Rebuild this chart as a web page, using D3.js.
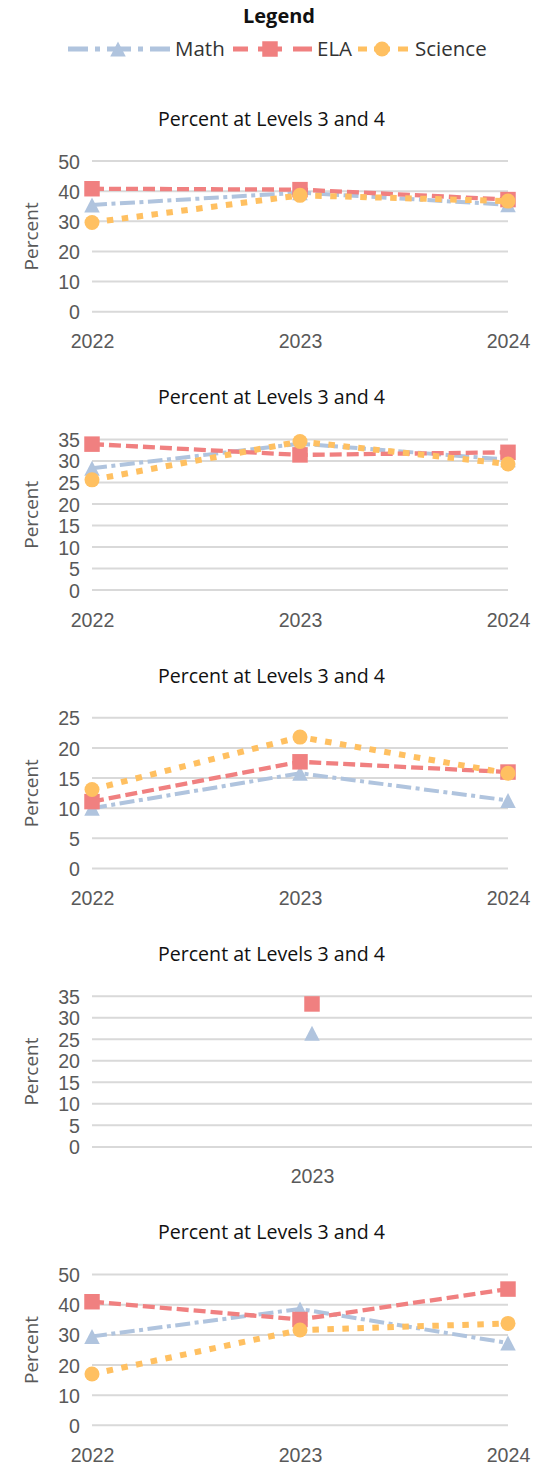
<!DOCTYPE html>
<html>
<head>
<meta charset="utf-8">
<script src="https://cdn.jsdelivr.net/npm/d3@7"></script>
<style>
  html, body { margin: 0; padding: 0; background: #fff; }
  svg { display: block; font-family: "Open Sans", "Noto Sans", sans-serif; }
</style>
</head>
<body>
<script>
// ---------- DATA ----------
const seriesNames = ["Math", "ELA", "Science"];
const chartTitle = "Percent at Levels 3 and 4";
const yAxisLabel = "Percent";
const legendTitle = "Legend";

const categories = [
  ["2022", "2023", "2024"],
  ["2022", "2023", "2024"],
  ["2022", "2023", "2024"],
  ["2023"],
  ["2022", "2023", "2024"]
];
const yMax  = [50, 35, 25, 35, 50];
const yStep = [10, 5, 5, 5, 10];

const mathValues = [
  [35.4, 39.5, 35.5],
  [28.3, 34.0, 30.3],
  [10.0, 15.8, 11.3],
  [26.4],
  [29.5, 38.6, 27.3]
];
const elaValues = [
  [40.8, 40.5, 37.2],
  [33.9, 31.4, 32.0],
  [11.1, 17.7, 16.0],
  [33.2],
  [41.0, 35.1, 45.2]
];
const scienceValues = [
  [29.6, 38.6, 36.7],
  [25.6, 34.5, 29.3],
  [13.1, 21.8, 15.8],
  [null],
  [17.0, 31.6, 33.8]
];

// ---------- STYLES ----------
const styles = {
  Math:    { color: "#b0c4de", width: 4,   dash: "15,4.5,4,4.5", marker: "triangle" },
  ELA:     { color: "#f08080", width: 4.3, dash: "12,5",          marker: "square" },
  Science: { color: "#ffc061", width: 6,   dash: "6.5,8.5",       marker: "circle" }
};
const allValues = { Math: mathValues, ELA: elaValues, Science: scienceValues };

const W = 548, H = 1464;
const svg = d3.select("body").append("svg").attr("width", W).attr("height", H);

function markerPath(type) {
  if (type === "triangle") {
    const w = 15.5, h = 15;
    return `M0,${-h/2}L${w/2},${h/2}L${-w/2},${h/2}Z`;
  }
  if (type === "square") {
    const s = 15.5;
    return `M${-s/2},${-s/2}h${s}v${s}h${-s}Z`;
  }
  return d3.symbol(d3.symbolCircle, Math.PI * 7.5 * 7.5)();
}

// ---------- LEGEND ----------
svg.append("text")
  .attr("x", 279).attr("y", 23)
  .attr("text-anchor", "middle")
  .attr("font-size", 20).attr("font-weight", "bold").attr("fill", "#111")
  .text(legendTitle);

const legendItems = [
  { name: "Math",    x0: 68,  x1: 170, mx: 118, tx: 175, dash: "20,7,5,7,24,7,5,7,20" },
  { name: "ELA",     x0: 233, x1: 312, mx: 270, tx: 317, dash: "15,10,24,11,19" },
  { name: "Science", x0: 358, x1: 408, mx: 382, tx: 415, dash: "9,7,16,8,10" }
];
const ly = 49;
legendItems.forEach(it => {
  const st = styles[it.name];
  svg.append("line")
    .attr("x1", it.x0).attr("x2", it.x1).attr("y1", ly).attr("y2", ly)
    .attr("stroke", st.color).attr("stroke-width", 5)
    .attr("stroke-dasharray", it.dash);
  svg.append("path")
    .attr("d", markerPath(st.marker))
    .attr("transform", `translate(${it.mx},${ly})`)
    .attr("fill", st.color);
  svg.append("text")
    .attr("x", it.tx).attr("y", 55.5)
    .attr("font-size", 20.5).attr("fill", "#333")
    .text(it.name);
});

// ---------- CHARTS ----------
const chartGap = 278.4;
const plotLeft = 92;
categories.forEach((cats, i) => {
  const oy = i * chartGap;
  const top = 161 + oy, bottom = 311.7 + oy;
  const right = cats.length === 1 ? 532 : 508;
  const g = svg.append("g");

  const x = d3.scalePoint().domain(cats).range([plotLeft, right]).padding(0);
  const y = d3.scaleLinear().domain([0, yMax[i]]).range([bottom, top]);
  const ticks = d3.range(0, yMax[i] + yStep[i] / 2, yStep[i]);

  // title
  g.append("text")
    .attr("x", 271.5).attr("y", 125.7 + oy)
    .attr("text-anchor", "middle")
    .attr("font-size", 19.6).attr("fill", "#111")
    .text(chartTitle);

  // y-axis label
  g.append("text")
    .attr("transform", `translate(38.3,${(top + bottom) / 2}) rotate(-90)`)
    .attr("text-anchor", "middle")
    .attr("font-size", 19).attr("fill", "#595959")
    .text(yAxisLabel);

  // gridlines
  g.append("g").selectAll("line").data(ticks).join("line")
    .attr("x1", plotLeft).attr("x2", right)
    .attr("y1", d => y(d)).attr("y2", d => y(d))
    .attr("stroke", "#d9d9d9").attr("stroke-width", 2);

  // y axis
  const ya = g.append("g").attr("transform", `translate(${plotLeft},0)`)
    .call(d3.axisLeft(y).tickValues(ticks).tickSize(0).tickPadding(12).tickFormat(d3.format("d")));
  ya.select(".domain").remove();
  ya.selectAll("text").attr("font-size", 19.6).attr("fill", "#595959")
    .attr("font-family", null).attr("dy", "0.36em");

  // x axis
  const xa = g.append("g").attr("transform", `translate(0,${bottom})`)
    .call(d3.axisBottom(x).tickSize(0));
  xa.select(".domain").remove();
  xa.selectAll("text").attr("font-size", 19.6).attr("fill", "#595959")
    .attr("font-family", null).attr("dy", null).attr("y", 36.6);

  // series
  seriesNames.forEach(name => {
    const st = styles[name];
    const vals = allValues[name][i];
    const pts = cats.map((c, j) => ({ c, v: vals[j] })).filter(d => d.v != null);
    if (pts.length > 1) {
      g.append("path")
        .datum(pts)
        .attr("fill", "none")
        .attr("stroke", st.color)
        .attr("stroke-width", st.width)
        .attr("stroke-dasharray", st.dash)
        .attr("d", d3.line().x(d => x(d.c)).y(d => y(d.v)));
    }
    g.append("g").selectAll("path").data(pts).join("path")
      .attr("d", markerPath(st.marker))
      .attr("transform", d => `translate(${x(d.c)},${y(d.v)})`)
      .attr("fill", st.color);
  });
});
</script>
</body>
</html>
